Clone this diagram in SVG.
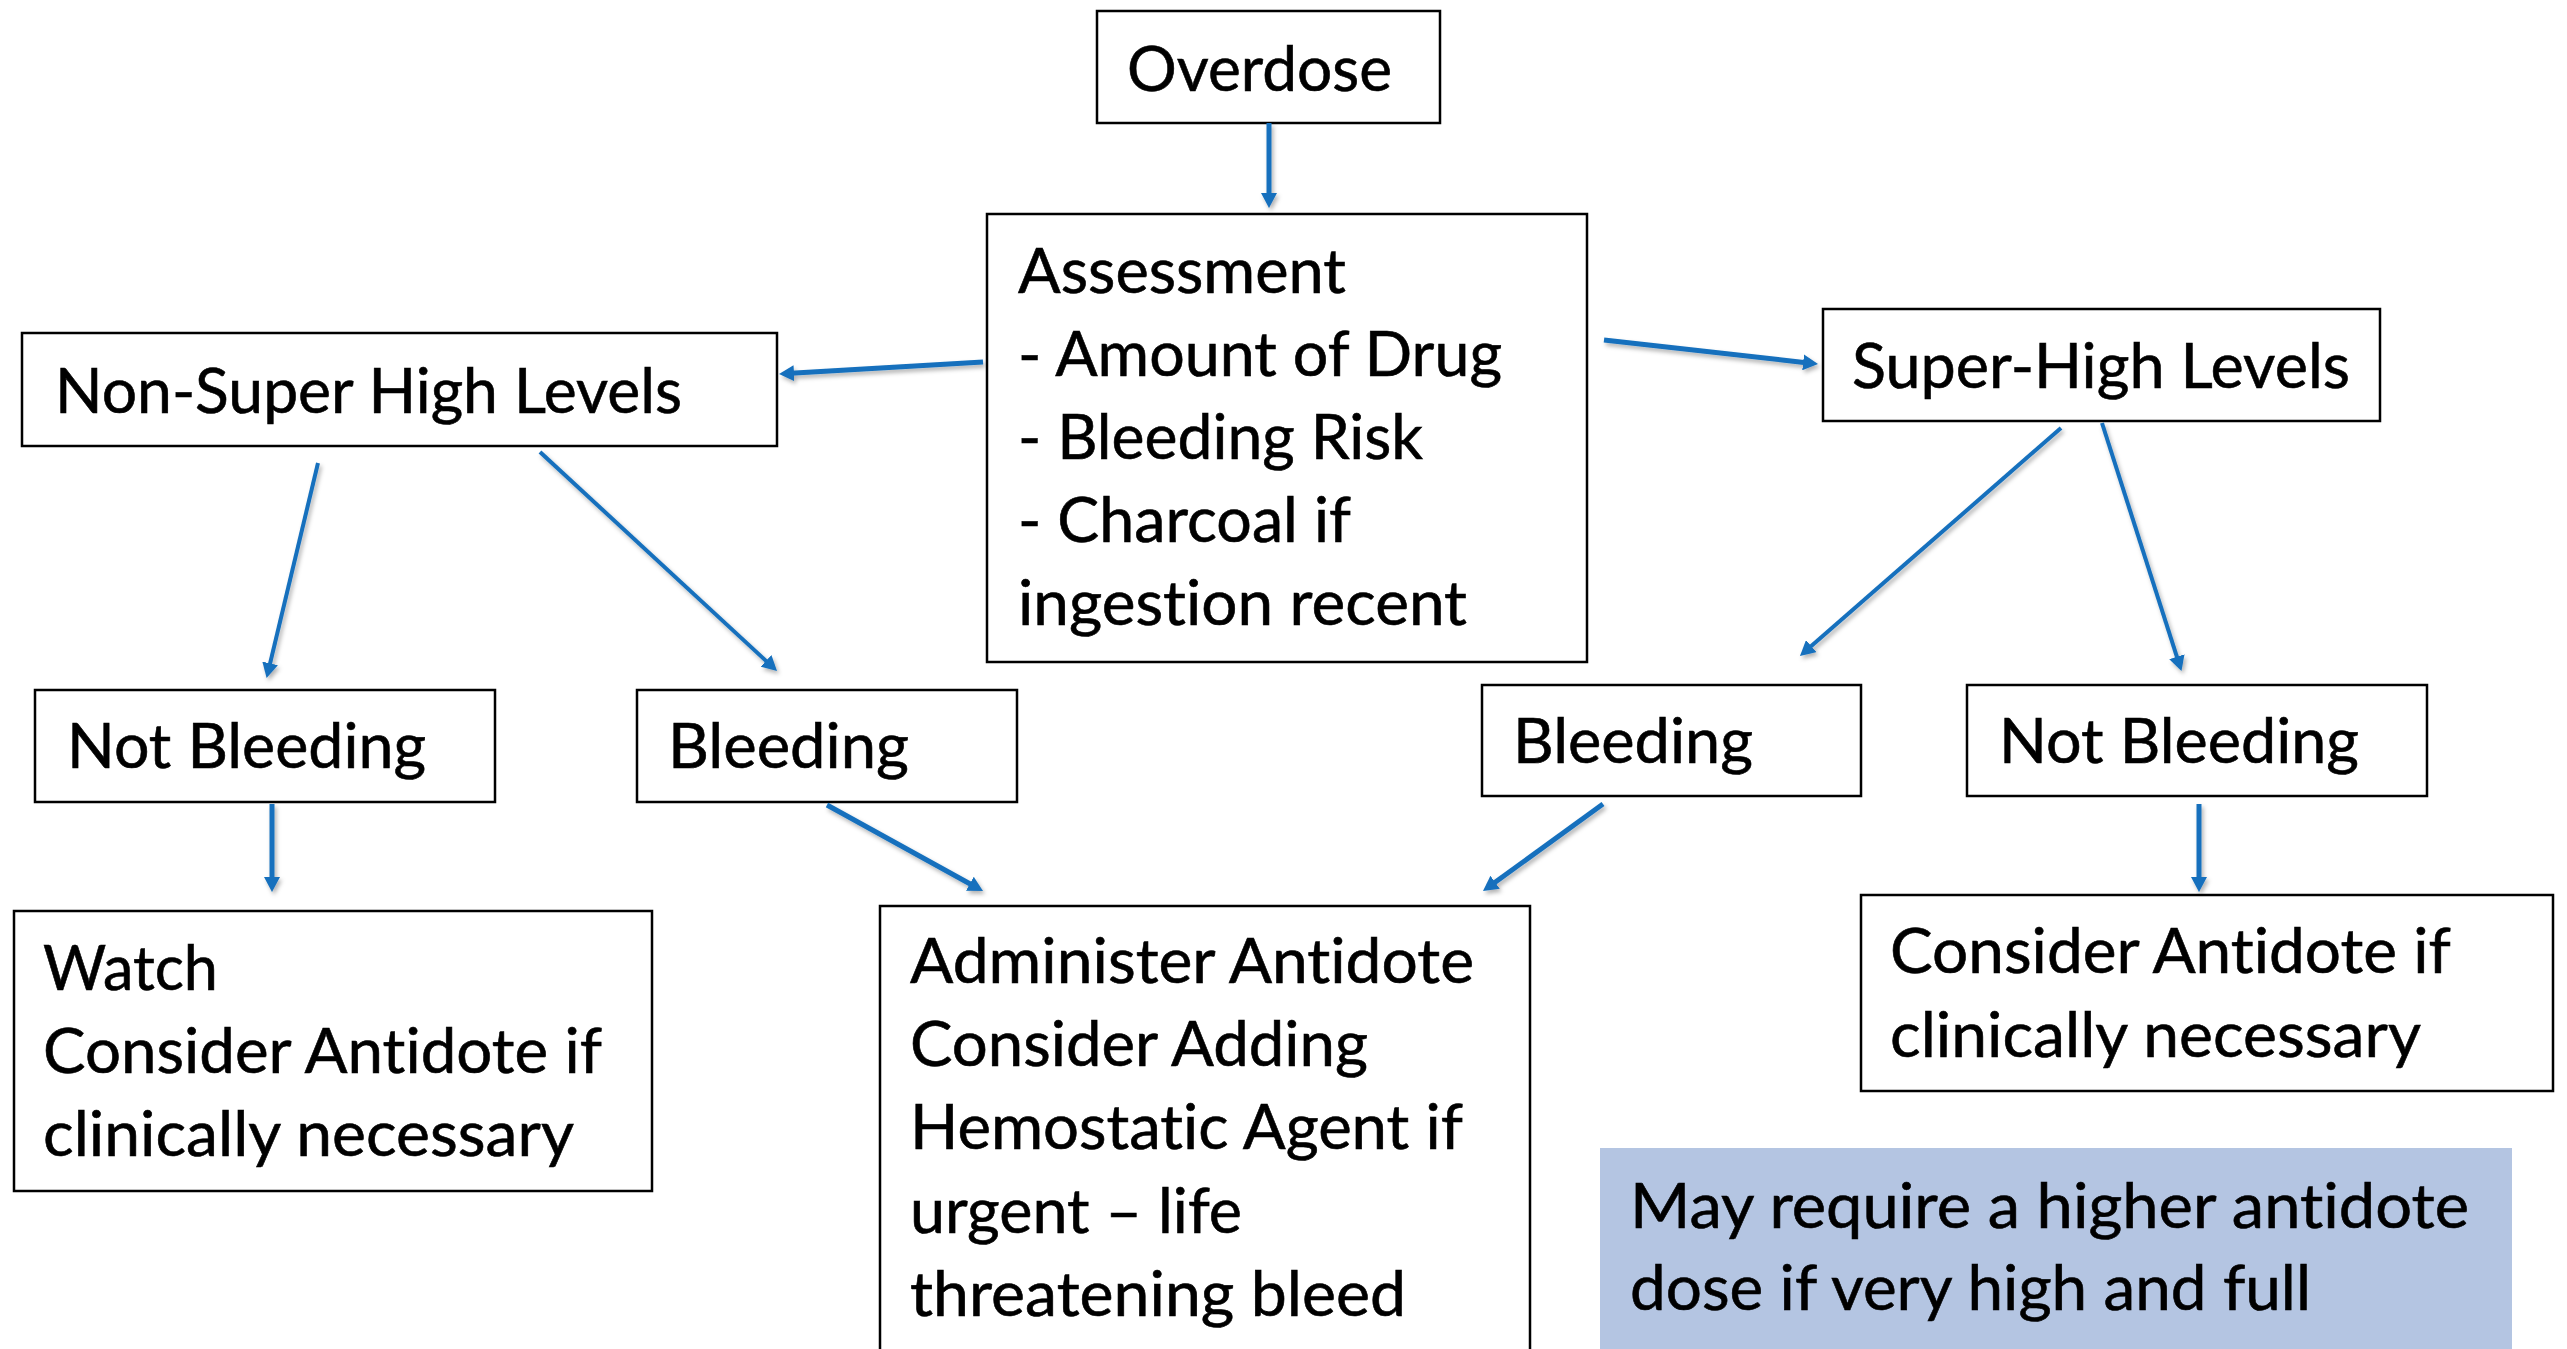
<svg xmlns="http://www.w3.org/2000/svg" width="2567" height="1349" viewBox="0 0 2567 1349">
<style>
.box{fill:#ffffff;stroke:#000000;stroke-width:2.5}
.note{fill:#B4C5E2;stroke:none}
.t{font-family:Lato,"Open Sans","Liberation Sans",sans-serif;font-size:62px;fill:#000000;font-variant-ligatures:none;stroke:#000000;stroke-width:0.6}
.c{stroke:#1570BD;stroke-width:5;fill:none;marker-end:url(#ah);filter:url(#sh)}
.thin{stroke-width:4}
</style>
<defs>
<marker id="ah" markerUnits="userSpaceOnUse" markerWidth="16" markerHeight="16" refX="3" refY="8" orient="auto">
<path d="M0,0 L15,8 L0,16 Z" fill="#1570BD"/>
</marker>
<filter id="sh" filterUnits="userSpaceOnUse" x="0" y="0" width="2567" height="1349">
<feDropShadow dx="2" dy="3" stdDeviation="2" flood-color="#000000" flood-opacity="0.3"/>
</filter>
</defs>
<rect width="2567" height="1349" fill="#ffffff"/>

<g id="overdose">
<rect class="box" x="1097" y="11" width="343" height="112"/>
<text class="t" x="1127" y="91" textLength="265" lengthAdjust="spacingAndGlyphs">Overdose</text>
</g>

<g id="assessment">
<rect class="box" x="987" y="214" width="600" height="448"/>
<text class="t" x="1018" y="293" textLength="328" lengthAdjust="spacingAndGlyphs">Assessment</text>
<text class="t" x="1018" y="376" textLength="484" lengthAdjust="spacingAndGlyphs">- Amount of Drug</text>
<text class="t" x="1018" y="459" textLength="405" lengthAdjust="spacingAndGlyphs">- Bleeding Risk</text>
<text class="t" x="1018" y="542" textLength="333" lengthAdjust="spacingAndGlyphs">- Charcoal if</text>
<text class="t" x="1018" y="625" textLength="449" lengthAdjust="spacingAndGlyphs">ingestion recent</text>
</g>

<g id="non-super-high">
<rect class="box" x="22" y="333" width="755" height="113"/>
<text class="t" x="55" y="413" textLength="627" lengthAdjust="spacingAndGlyphs">Non-Super High Levels</text>
</g>

<g id="super-high">
<rect class="box" x="1823" y="309" width="557" height="112"/>
<text class="t" x="1852" y="388" textLength="498" lengthAdjust="spacingAndGlyphs">Super-High Levels</text>
</g>

<g id="not-bleeding-left">
<rect class="box" x="35" y="690" width="460" height="112"/>
<text class="t" x="67" y="768" textLength="359" lengthAdjust="spacingAndGlyphs">Not Bleeding</text>
</g>

<g id="bleeding-left">
<rect class="box" x="637" y="690" width="380" height="112"/>
<text class="t" x="668" y="768" textLength="241" lengthAdjust="spacingAndGlyphs">Bleeding</text>
</g>

<g id="bleeding-right">
<rect class="box" x="1482" y="685" width="379" height="111"/>
<text class="t" x="1513" y="763" textLength="240" lengthAdjust="spacingAndGlyphs">Bleeding</text>
</g>

<g id="not-bleeding-right">
<rect class="box" x="1967" y="685" width="460" height="111"/>
<text class="t" x="1999" y="763" textLength="360" lengthAdjust="spacingAndGlyphs">Not Bleeding</text>
</g>

<g id="watch">
<rect class="box" x="14" y="911" width="638" height="280"/>
<text class="t" x="43" y="990" textLength="175" lengthAdjust="spacingAndGlyphs">Watch</text>
<text class="t" x="43" y="1073" textLength="559" lengthAdjust="spacingAndGlyphs">Consider Antidote if</text>
<text class="t" x="43" y="1156" textLength="531" lengthAdjust="spacingAndGlyphs">clinically necessary</text>
</g>

<g id="administer">
<rect class="box" x="880" y="906" width="650" height="460"/>
<text class="t" x="910" y="983" textLength="564" lengthAdjust="spacingAndGlyphs">Administer Antidote</text>
<text class="t" x="910" y="1066" textLength="458" lengthAdjust="spacingAndGlyphs">Consider Adding</text>
<text class="t" x="910" y="1149" textLength="553" lengthAdjust="spacingAndGlyphs">Hemostatic Agent if</text>
<text class="t" x="910" y="1233" textLength="332" lengthAdjust="spacingAndGlyphs">urgent – life</text>
<text class="t" x="910" y="1316" textLength="496" lengthAdjust="spacingAndGlyphs">threatening bleed</text>
</g>

<g id="consider-right">
<rect class="box" x="1861" y="895" width="692" height="196"/>
<text class="t" x="1890" y="973" textLength="561" lengthAdjust="spacingAndGlyphs">Consider Antidote if</text>
<text class="t" x="1890" y="1057" textLength="531" lengthAdjust="spacingAndGlyphs">clinically necessary</text>
</g>

<g id="note">
<rect class="note" x="1600" y="1148" width="912" height="220"/>
<text class="t" x="1630" y="1228" textLength="839" lengthAdjust="spacingAndGlyphs">May require a higher antidote</text>
<text class="t" x="1630" y="1310" textLength="681" lengthAdjust="spacingAndGlyphs">dose if very high and full</text>
</g>

<g id="connectors">
<line class="c" x1="1269" y1="123" x2="1269" y2="196"/>
<line class="c" x1="983" y1="362" x2="791" y2="373.3"/>
<line class="c" x1="1604" y1="340" x2="1806.1" y2="362.7"/>
<line class="c thin" x1="318" y1="463" x2="269.4" y2="666.3"/>
<line class="c thin" x1="540" y1="452" x2="768.2" y2="662.9"/>
<line class="c thin" x1="2061" y1="428" x2="1809" y2="648.1"/>
<line class="c thin" x1="2102" y1="423" x2="2177.8" y2="659.6"/>
<line class="c" x1="272" y1="804" x2="272" y2="880"/>
<line class="c" x1="827" y1="805" x2="972.5" y2="885.2"/>
<line class="c" x1="1603" y1="804" x2="1492.7" y2="884"/>
<line class="c" x1="2199" y1="804" x2="2199" y2="880"/>
</g>
</svg>
